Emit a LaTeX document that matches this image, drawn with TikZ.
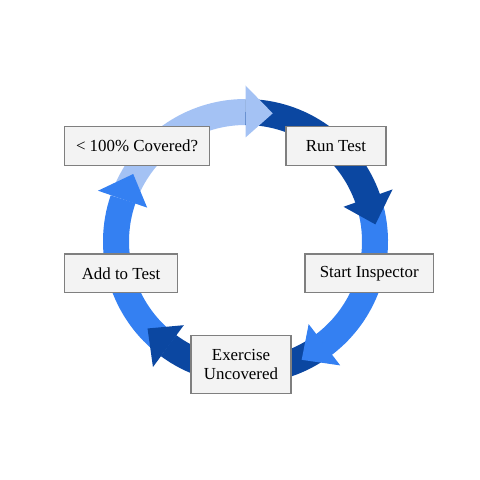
\documentclass[tikz,border=0pt]{standalone}
\usepackage{tikz}
\usepackage{fontspec}
\setmainfont{Liberation Serif}
\definecolor{lightring}{HTML}{A4C2F4}
\definecolor{midring}{HTML}{3480F2}
\definecolor{darkring}{HTML}{0B47A1}
\definecolor{boxfill}{HTML}{F3F3F3}
\definecolor{boxline}{HTML}{7F7F7F}
% band of the ring: #1 colour, #2 start angle, #3 end angle
\def\ringband#1#2#3{\draw[line width=0.65cm, #1] ([shift={(#2:129.5)}]ctr) arc (#2:#3:129.5);}
% head of an arrow: #1 colour, #2 tip angle
\def\ringhead#1#2{\fill[#1] ([shift={(#2+12:104)}]ctr) -- ([shift={(#2:131)}]ctr) -- ([shift={(#2+12:156)}]ctr) -- cycle;}

\begin{document}
\begin{tikzpicture}[x=0.025cm, y=0.025cm,
		stepbox/.style={draw=boxline, fill=boxfill, line width=0.9pt, inner sep=0pt,
			minimum height=38.6*0.025cm, align=center,
			font=\fontsize{12}{13.6}\selectfont}]
	\useasboundingbox (0,0) rectangle (480,480);
	\coordinate (ctr) at (245.5,238.5);
	% ring
	\ringband{lightring}{161}{90}
	\ringband{darkring}{90}{19}
	\ringband{midring}{19}{-53}
	\ringband{darkring}{-53}{-126.6}
	\ringband{midring}{233.4}{161}
	\ringhead{lightring}{78}
	\ringhead{darkring}{7.5}
	\ringhead{midring}{-64.6}
	\ringhead{darkring}{221.6}
	\ringhead{midring}{149}
	% steps
	\node[stepbox, minimum width=144.6*0.025cm] (covered) at (137,334) {< 100\% Covered?};
	\node[stepbox, minimum width=100*0.025cm] (runtest) at (336,334) {Run Test};
	\node[stepbox, minimum width=128.3*0.025cm] (inspector) at (369.2,206.7) {Start Inspector};
	\node[stepbox, minimum width=112.6*0.025cm] (addtest) at (121,206.7) {Add to Test};
	\node[stepbox, minimum width=100*0.025cm, minimum height=58.4*0.025cm] (exercise) at (241,115.5) {Exercise\\Uncovered};
\end{tikzpicture}
\end{document}
